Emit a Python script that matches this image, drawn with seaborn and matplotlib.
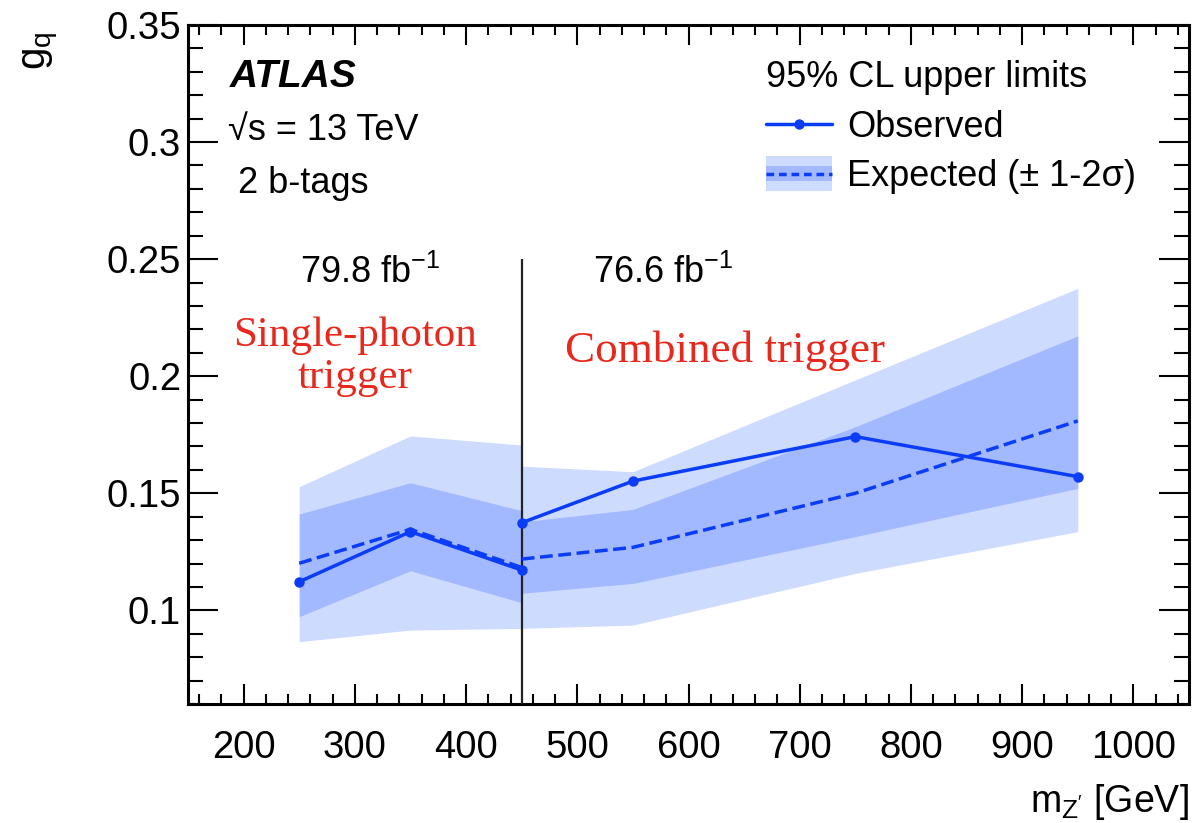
import numpy as np
import pandas as pd
import matplotlib
matplotlib.use("Agg")
import matplotlib.pyplot as plt
import seaborn as sns
from matplotlib.legend_handler import HandlerBase
from matplotlib.patches import Rectangle
from matplotlib.lines import Line2D
from matplotlib.ticker import MultipleLocator, FormatStrFormatter

# ---------------- data ----------------
mass_low = [250, 350, 450]
obs_low = [0.1122, 0.1336, 0.1172]
exp_low = [0.1201, 0.1346, 0.1183]
up2_low = [0.1528, 0.1745, 0.1706]
up1_low = [0.1411, 0.1545, 0.1426]
dn1_low = [0.0973, 0.1169, 0.1033]
dn2_low = [0.0866, 0.0916, 0.0923]

mass_high = [450, 550, 750, 950]
obs_high = [0.1374, 0.1552, 0.1742, 0.1571]
exp_high = [0.1219, 0.1269, 0.1500, 0.1809]
up2_high = [0.1616, 0.1592, 0.1984, 0.2375]
up1_high = [0.1378, 0.1431, 0.1784, 0.2172]
dn1_high = [0.1073, 0.1115, 0.1315, 0.1521]
dn2_high = [0.0923, 0.0937, 0.1158, 0.1336]

lumi_labels = ["79.8 fb$^{\\mathregular{-1}}$", "76.6 fb$^{\\mathregular{-1}}$"]
trigger_labels = ["Single-photon\ntrigger", "Combined trigger"]
boundary_mass = 450

# ---------------- style ----------------
sns.set_theme(style="ticks")
plt.rcParams["font.family"] = ["Liberation Sans", "DejaVu Sans"]
plt.rcParams["mathtext.fontset"] = "custom"
plt.rcParams["mathtext.rm"] = "Liberation Sans"
plt.rcParams["mathtext.it"] = "Liberation Sans:italic"
plt.rcParams["mathtext.bf"] = "Liberation Sans:bold"
for key in ["text.color", "axes.labelcolor", "xtick.color", "ytick.color",
            "axes.edgecolor"]:
    plt.rcParams[key] = "black"

BLUE = "#0b3cf7"
LIGHT = "#cddbff"
DARK = "#a2b8ff"
RED = "#e8281c"
FS = 26

fig = plt.figure(figsize=(11.93, 8.23), dpi=100)
ax = fig.add_axes([188 / 1193, 1 - 704 / 823, 1001 / 1193, 679 / 823])

df_low = pd.DataFrame({"m": mass_low, "obs": obs_low, "exp": exp_low})
df_high = pd.DataFrame({"m": mass_high, "obs": obs_high, "exp": exp_high})

for m, u2, d2, u1, d1 in [(mass_low, up2_low, dn2_low, up1_low, dn1_low),
                          (mass_high, up2_high, dn2_high, up1_high, dn1_high)]:
    ax.fill_between(m, d2, u2, color=LIGHT, lw=0, zorder=1)
    ax.fill_between(m, d1, u1, color=DARK, lw=0, zorder=2)

ax.vlines(boundary_mass, 0.06, 0.25, color="#222222", lw=1.6, zorder=3)

for df in (df_low, df_high):
    sns.lineplot(data=df, x="m", y="exp", ax=ax, color=BLUE, lw=2.5,
                 linestyle="--", dashes=(2.8, 2.0), zorder=4)
    sns.lineplot(data=df, x="m", y="obs", ax=ax, color=BLUE, lw=2.5,
                 marker="o", markersize=7.5, markeredgewidth=0, zorder=5)

# ---------------- axes ----------------
ax.set_xlim(150, 1050)
ax.set_ylim(0.06, 0.35)
ax.xaxis.set_major_locator(MultipleLocator(100))
ax.xaxis.set_minor_locator(MultipleLocator(20))
ax.yaxis.set_major_locator(MultipleLocator(0.05))
ax.yaxis.set_minor_locator(MultipleLocator(0.01))
ax.yaxis.set_major_formatter(FormatStrFormatter("%g"))
ax.tick_params(axis="both", which="both", direction="in", top=True, right=True,
               width=1.5, colors="black", labelsize=27.5)
ax.tick_params(axis="x", which="major", length=14.4, pad=19)
ax.tick_params(axis="x", which="minor", length=7.2)
ax.tick_params(axis="y", which="major", length=21.6, pad=5)
ax.tick_params(axis="y", which="minor", length=10.8)
for s in ax.spines.values():
    s.set_linewidth(2.2)
    s.set_color("black")

ax.set_xlabel("m$_{\\mathregular{Z'}}$ [GeV]", fontsize=27, loc="right")
ax.xaxis.set_label_coords(1.0, -0.115)
ax.set_ylabel("$\\mathregular{g_{q}}$", fontsize=29, loc="top")
ax.yaxis.set_label_coords(-0.128, 0.99)

# ---------------- annotations ----------------
ax.text(0.042, 0.909, "ATLAS", transform=ax.transAxes, fontsize=28,
        fontweight="bold", style="italic", va="baseline")
ax.text(0.040, 0.831, "\u221as = 13 TeV", transform=ax.transAxes,
        fontsize=FS, va="baseline")
ax.text(0.050, 0.753, "2 b-tags", transform=ax.transAxes, fontsize=FS, va="baseline")
ax.text(0.112, 0.620, lumi_labels[0], transform=ax.transAxes, fontsize=FS,
        va="baseline")
ax.text(0.4046, 0.620, lumi_labels[1], transform=ax.transAxes, fontsize=FS,
        va="baseline")
ax.text(0.1668, 0.4654, trigger_labels[0], transform=ax.transAxes, fontsize=31,
        family=["Liberation Serif", "DejaVu Serif"], color=RED, ha="center",
        va="baseline", linespacing=1.12)
ax.text(0.3766, 0.5037, trigger_labels[1], transform=ax.transAxes, fontsize=32.5,
        family=["Liberation Serif", "DejaVu Serif"], color=RED, va="baseline")

# ---------------- legend ----------------
class BandHandle:
    pass


class BandHandler(HandlerBase):
    def create_artists(self, legend, orig_handle, xdescent, ydescent, width,
                       height, fontsize, trans):
        cy = -ydescent + height / 2
        r1 = Rectangle((-xdescent, cy - height * 0.7), width, height * 1.4,
                       facecolor=LIGHT, lw=0, transform=trans)
        r2 = Rectangle((-xdescent, cy - height * 0.3), width, height * 0.6,
                       facecolor=DARK, lw=0, transform=trans)
        ln = Line2D([-xdescent, -xdescent + width], [cy, cy], color=BLUE, lw=2.5,
                    linestyle="--", dashes=(2.2, 1.4), transform=trans)
        return [r1, r2, ln]


obs_handle = Line2D([], [], color=BLUE, lw=2.5, marker="o", markersize=7.5,
                    markeredgewidth=0)
band_handle = BandHandle()
leg = ax.legend(handles=[obs_handle, band_handle],
                labels=["Observed", "Expected (\u00b1 1-2\u03c3)"],
                title="95% CL upper limits", loc="upper left",
                bbox_to_anchor=(0.577, 0.948), frameon=False, fontsize=FS,
                title_fontsize=FS, handlelength=1.85, handletextpad=0.4,
                labelspacing=0.4, borderpad=0, borderaxespad=0,
                alignment="left", handler_map={BandHandle: BandHandler()})
leg._legend_handle_box.set_offset(lambda *a: (0, 0))

fig.savefig("out.png", dpi=100)
